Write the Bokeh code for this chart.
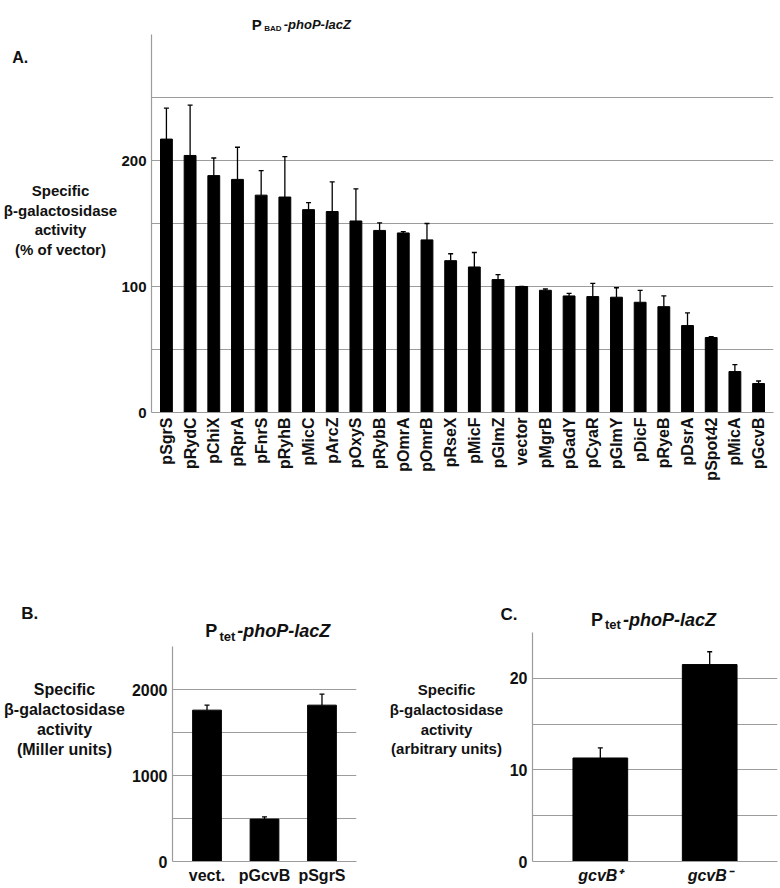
import math
from bokeh.plotting import figure
from bokeh.models import ColumnDataSource, FactorRange, Range1d, FixedTicker, Whisker, TeeHead, Label
from bokeh.layouts import column, row
from bokeh.embed import file_html
from bokeh.resources import INLINE

# ---------------- data ----------------
a_names = ["pSgrS", "pRydC", "pChiX", "pRprA", "pFnrS", "pRyhB", "pMicC", "pArcZ",
           "pOxyS", "pRybB", "pOmrA", "pOmrB", "pRseX", "pMicF", "pGlmZ", "vector",
           "pMgrB", "pGadY", "pCyaR", "pGlmY", "pDicF", "pRyeB", "pDsrA", "pSpot42",
           "pMicA", "pGcvB"]
a_values = [217, 204, 188, 185, 172.5, 171, 161, 159.5, 152, 144.5, 142.5, 137, 120.5,
            115.5, 105.5, 100, 97, 92.5, 92, 91.5, 87.5, 84, 69, 59.5, 32.5, 23]
a_errors = [24.5, 40, 14, 25.5, 19.5, 32, 5.5, 23.5, 25.5, 6, 1, 13, 5.5,
            11.5, 4, 0, 1, 2, 10.5, 7.5, 9.5, 8.5, 10, 0.7, 5.5, 2]
a_ticks = [0, 100, 200]
a_grid = [0, 50, 100, 150, 200, 250, 300]

b_names = ["vect.", "pGcvB", "pSgrS"]
b_values = [1760, 493, 1818]
b_errors = [58, 27, 128]
b_ticks = [0, 1000, 2000]
b_grid = [0, 500, 1000, 1500, 2000, 2500]

c_names = ["gcvB\u207a", "gcvB\u207b"]
c_values = [11.3, 21.5]
c_errors = [1.1, 1.4]
c_ticks = [0, 10, 20]
c_grid = [0, 5, 10, 15, 20, 25]

FONT = "Liberation Sans"
GRID = "#9c9c9c"
INK = "#111111"


def panel(names, values, errors, ticks, grid, ymax, pad, width, height,
          bl, br, bt, bb, tick_size, label_size, label_style, vertical):
    src = ColumnDataSource(dict(name=names, value=values,
                                upper=[v + e for v, e in zip(values, errors)]))
    p = figure(x_range=FactorRange(*names, range_padding=pad),
               y_range=Range1d(0, ymax), width=width, height=height,
               min_border_left=bl, min_border_right=br, min_border_top=bt,
               min_border_bottom=bb, output_backend="svg", toolbar_location=None)
    p.vbar(x="name", top="value", width=0.5, source=src,
           fill_color="black", line_color="black")
    p.add_layout(Whisker(base="name", lower="value", upper="upper", source=src,
                         line_color="black", line_width=1.3, lower_head=None,
                         upper_head=TeeHead(size=5, line_color="black", line_width=1.3)))
    p.outline_line_color = None
    p.xgrid.grid_line_color = None
    p.ygrid.ticker = FixedTicker(ticks=grid)
    p.ygrid.grid_line_color = GRID
    p.ygrid.grid_line_width = 1.2
    p.yaxis.ticker = FixedTicker(ticks=ticks)
    for ax in (p.xaxis[0], p.yaxis[0]):
        ax.axis_line_color = GRID
        ax.axis_line_width = 1.2
        ax.major_tick_line_color = None
        ax.minor_tick_line_color = None
        ax.major_tick_out = 0
        ax.major_tick_in = 0
        ax.minor_tick_out = 0
        ax.minor_tick_in = 0
        ax.axis_label_standoff = 0
        ax.major_label_text_font = FONT
        ax.major_label_text_font_style = "bold"
        ax.major_label_text_color = INK
    p.yaxis.major_label_text_font_size = tick_size
    p.yaxis.major_label_standoff = 5
    p.xaxis.major_label_text_font_size = label_size
    p.xaxis.major_label_text_font_style = label_style
    p.xaxis.major_label_standoff = 5
    if vertical:
        p.xaxis.major_label_orientation = math.pi / 2
    return p


def text_fig(w, h, x0, x1, y0, y1, bl=0, br=0, bt=0, bb=0):
    # a blank figure whose frame maps page coordinates (x0..x1, y0..y1 top->bottom)
    t = figure(width=w, height=h, x_range=Range1d(x0, x1), y_range=Range1d(y1, y0),
               min_border_left=bl, min_border_right=br, min_border_top=bt,
               min_border_bottom=bb, x_axis_location=None, y_axis_location=None,
               title=None, output_backend="svg", toolbar_location=None)
    t.outline_line_color = None
    t.grid.visible = False
    return t


def lab(t, x, y, text, size, style="bold", align="left", baseline="alphabetic"):
    t.add_layout(Label(x=x, y=y, text=text, text_font=FONT, text_font_size=size,
                       text_font_style=style, text_align=align,
                       text_baseline=baseline, text_color=INK))


def ylabel(t, x, ys, lines, size):
    for yy, txt in zip(ys, lines):
        lab(t, x, yy, txt, size, align="center", baseline="middle")


# ---------------- panel A ----------------
tA_left = text_fig(118, 510, 0, 118, 0, 510)
lab(tA_left, 11.7, 56.7, "A.", "16px")
ylabel(tA_left, 60, [190, 209.5, 229, 248.5],
       ["Specific", "\u03b2-galactosidase", "activity", "(% of vector)"], "15px")

tA_top = text_fig(662, 32, 150, 773, 0, 32, bl=32, br=7)
lab(tA_top, 250.5, 24, "P", "15px")
lab(tA_top, 263, 27.5, "BAD", "8px")
lab(tA_top, 282.5, 24, "-phoP-lacZ", "13px", style="bold italic")

pA = panel(a_names, a_values, a_errors, a_ticks, a_grid, 300, 0.01, 662, 478,
           32, 7, 2, 98, "15px", "16px", "bold", True)

rowA = row(tA_left, column(tA_top, pA))

# ---------------- panel B ----------------
tB_left = text_fig(128, 376, 0, 128, 510, 886)
lab(tB_left, 20.7, 612.7, "B.", "17px")
ylabel(tB_left, 64, [689, 709, 729, 749],
       ["Specific", "\u03b2-galactosidase", "activity", "(Miller units)"], "16px")

tB_top = text_fig(238, 134, 170, 356, 510, 644, bl=42, br=10)
lab(tB_top, 203, 630.7, "P", "18px")
lab(tB_top, 217.5, 636, "tet", "13px")
lab(tB_top, 235.5, 630.7, "-phoP-lacZ", "18px", style="bold italic")

pB = panel(b_names, b_values, b_errors, b_ticks, b_grid, 2500, 0.067, 238, 242,
           42, 10, 2, 25, "16px", "16px", "bold", False)

# ---------------- panel C ----------------
tC_top = text_fig(414, 120, 366, 780, 510, 630)
lab(tC_top, 500, 614, "C.", "17px")
lab(tC_top, 590.5, 619, "P", "18px")
lab(tC_top, 604.5, 623.5, "tet", "13px")
lab(tC_top, 622.5, 619, "-phoP-lacZ", "18px", style="bold italic")

tC_left = text_fig(140, 256, 366, 506, 632, 862, bt=2, bb=24)
ylabel(tC_left, 446, [689, 709, 729, 749],
       ["Specific", "\u03b2-galactosidase", "activity", "(arbitrary units)"], "15px")

pC = panel(c_names, c_values, c_errors, c_ticks, c_grid, 25, 0.12, 274, 256,
           25, 3, 2, 24, "16px", "16px", "bold italic", False)

rowBC = row(tB_left, column(tB_top, pB), column(tC_top, row(tC_left, pC)))

layout = column(rowA, rowBC)
open("out.html", "w").write(file_html(layout, INLINE, "phoP-lacZ"))
